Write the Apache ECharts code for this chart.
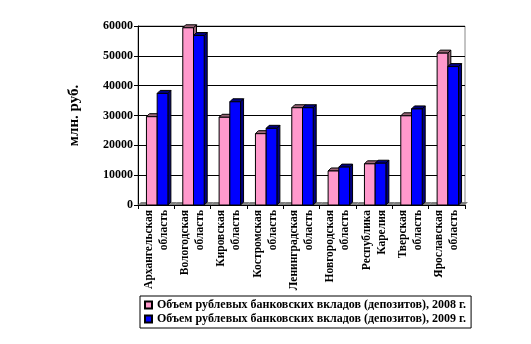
<!DOCTYPE html>
<html><head><meta charset="utf-8">
<script src="https://cdn.jsdelivr.net/npm/echarts@6/dist/echarts.min.js"></script>
<style>html,body{margin:0;padding:0;background:#fff}#c{width:531px;height:344px}</style>
</head><body><div id="c"></div>
<script>
var categories = ['Архангельская\nобласть','Вологодская\nобласть','Кировская\nобласть','Костромская\nобласть','Ленинградская\nобласть','Новгородская\nобласть','Республика\nКарелия','Тверская\nобласть','Ярославская\nобласть'];
var values2008 = [29600, 59400, 29400, 23900, 32600, 11400, 13800, 29900, 50900];
var values2009 = [37400, 56800, 34600, 25700, 32600, 12700, 14000, 32200, 46400];
var seriesNames = ['Объем рублевых банковских вкладов (депозитов), 2008 г.','Объем рублевых банковских вкладов (депозитов), 2009 г.'];
var yTitle = 'млн. руб.';

var FONT = '"Liberation Serif","Times New Roman",serif';
function render(idx, front, side){
  return function(params, api){
    var cat = api.value(0), v = api.value(1);
    var top = api.coord([cat, v]), base = api.coord([cat, 0]);
    var cw = api.size([1,0])[0];
    var bw = cw*0.295;
    var x = top[0] + (idx===0 ? -bw+1 : 1);
    var y = top[1], y0 = base[1], d = 3;
    return {type:'group', children:[
      {type:'polygon', shape:{points:[[x+bw,y],[x+bw+d,y-d],[x+bw+d,y0-d],[x+bw,y0]]}, style:{fill:side, stroke:'#000', lineWidth:1}},
      {type:'polygon', shape:{points:[[x,y],[x+d,y-d],[x+bw+d,y-d],[x+bw,y]]}, style:{fill:side, stroke:'#000', lineWidth:1}},
      {type:'rect', shape:{x:x, y:y, width:bw, height:y0-y}, style:{fill:front, stroke:'#000', lineWidth:1}}
    ]};
  };
}
function floorRender(params, api){
  var cat = api.value(0);
  var base = api.coord([cat, 0]);
  var cw = api.size([1,0])[0];
  var l = base[0]-cw/2, r = base[0]+cw/2, y0 = base[1], d = 3;
  return {type:'polygon', shape:{points:[[l,y0],[r,y0],[r+d,y0-d],[l+d,y0-d]]}, style:{fill:'#808080'}};
}
var chart = echarts.init(document.getElementById('c'), null, {renderer:'canvas'});
chart.setOption({
  animation:false,
  backgroundColor:'#fff',
  grid:{left:138, right:66, top:26, bottom:139, show:true, borderColor:'#888', borderWidth:1, backgroundColor:'transparent'},
  legend:{
    data:seriesNames, orient:'vertical', left:140, top:296,
    borderColor:'#000', borderWidth:1, padding:[3,5,3,4], itemGap:2,
    icon:'rect', itemWidth:7, itemHeight:7,
    textStyle:{fontFamily:FONT, fontSize:12, fontWeight:'bold', color:'#000'}
  },
  xAxis:{
    type:'category', data:categories,
    axisLine:{lineStyle:{color:'#000'}},
    axisTick:{show:true, length:4, lineStyle:{color:'#000'}},
    axisLabel:{rotate:90, interval:0, fontFamily:FONT, fontSize:11.5, fontWeight:'bold', color:'#000', lineHeight:15, margin:5},
    splitLine:{show:false}
  },
  yAxis:{
    type:'value', min:0, max:60000, interval:10000,
    name:yTitle, nameLocation:'middle', nameGap:56, nameRotate:90,
    nameTextStyle:{fontFamily:FONT, fontSize:15, fontWeight:'bold', color:'#000'},
    axisLine:{show:true, lineStyle:{color:'#000'}},
    axisTick:{show:true, length:4, lineStyle:{color:'#000'}},
    axisLabel:{fontFamily:FONT, fontSize:12, fontWeight:'bold', color:'#000', margin:5, formatter:function(v){return String(v);}},
    splitLine:{lineStyle:{color:'#000', width:1}}
  },
  series:[
    {type:'custom', name:'floor', silent:true, renderItem:floorRender, data:categories.map(function(c,i){return [i,0];}), encode:{x:0,y:1}, z:1},
    {type:'custom', name:seriesNames[0], renderItem:render(0,'#FF99CC','#996677'), itemStyle:{color:'#FF99CC', borderColor:'#000', borderWidth:1},
      data:values2008.map(function(v,i){return [i,v];}), encode:{x:0,y:1}, z:2},
    {type:'custom', name:seriesNames[1], renderItem:render(1,'#0000FF','#000080'), itemStyle:{color:'#0000FF', borderColor:'#000', borderWidth:1},
      data:values2009.map(function(v,i){return [i,v];}), encode:{x:0,y:1}, z:3}
  ]
});
</script></body></html>
